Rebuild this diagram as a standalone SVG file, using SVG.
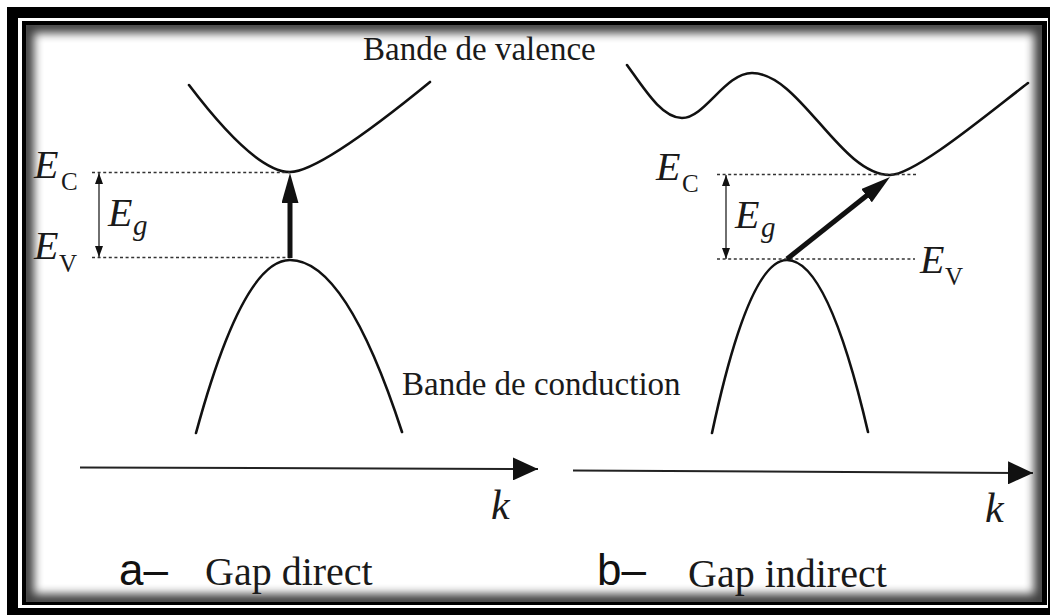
<svg xmlns="http://www.w3.org/2000/svg" width="1050" height="615" viewBox="0 0 1050 615">
<style>
.curve{fill:none;stroke:#111;stroke-width:2.6;stroke-linecap:round}
.dot{fill:none;stroke:#333;stroke-width:1.6;stroke-dasharray:3 2.6}
.axis{fill:none;stroke:#222;stroke-width:2}
.thick{fill:none;stroke:#111;stroke-width:5}
.thin{fill:none;stroke:#222;stroke-width:1.3}
.serif{font-family:"Liberation Serif","Times New Roman",serif;fill:#1a1a1a}
.it{font-style:italic}
.sans{font-family:"Liberation Sans",Arial,sans-serif;fill:#111}
</style>
<defs>
<marker id="axisHead" markerUnits="userSpaceOnUse" viewBox="0 0 25 23" refX="25" refY="11.5" markerWidth="25" markerHeight="23" orient="auto">
<path d="M0,0 L25,11.5 L0,23 Z" fill="#111"/>
</marker>
<marker id="thickHead" markerUnits="userSpaceOnUse" viewBox="0 0 30 17" refX="8" refY="8.5" markerWidth="30" markerHeight="17" orient="auto">
<path d="M0,0 L30,8.5 L0,17 Z" fill="#111"/>
</marker>
<marker id="smallHead" markerUnits="userSpaceOnUse" viewBox="0 0 11 8" refX="11" refY="4" markerWidth="11" markerHeight="8" orient="auto-start-reverse">
<path d="M0,0 L11,4 L0,8 Z" fill="#111"/>
</marker>
<clipPath id="innerClip"><rect x="26" y="25" width="1016" height="577"/></clipPath>
<filter id="blur" x="-5%" y="-5%" width="110%" height="110%"><feGaussianBlur stdDeviation="5"/></filter>
</defs>

<g id="frame">
<rect x="0" y="0" width="1050" height="615" fill="#fff"/>
<rect x="7" y="7" width="1043" height="608" fill="#000"/>
<rect x="18" y="18" width="1030" height="590" fill="#fff"/>
<rect x="22" y="21" width="1025" height="584" fill="#000"/>
<rect x="26" y="25" width="1016" height="577" fill="#fff"/>
<rect x="26" y="25" width="1016" height="577" fill="none" stroke="#000" stroke-width="16" opacity="0.75" filter="url(#blur)" clip-path="url(#innerClip)"/>
</g>

<g id="panel-a">
<g id="band-a-upper"><path class="curve" d="M189,85 Q255,172 290,172 Q320,172 430,82"/></g>
<g id="band-a-lower"><path class="curve" d="M196,433 Q243,260 290,260 Q346,260 402,432"/></g>
<g id="levels-a">
<line class="dot" x1="92" y1="172.5" x2="290" y2="172.5"/>
<line class="dot" x1="92" y1="257.5" x2="290" y2="257.5"/>
</g>
<g id="label-Ec-a"><text class="serif it" x="34" y="178" font-size="40">E</text><text class="serif" x="61" y="190" font-size="25">C</text></g>
<g id="label-Ev-a"><text class="serif it" x="34" y="259" font-size="40">E</text><text class="serif" x="59" y="272" font-size="25">V</text></g>
<g id="label-Eg-a"><text class="serif it" x="108" y="226" font-size="40">E</text><text class="serif it" x="133" y="235" font-size="29">g</text></g>
<g id="label-k-a"><text class="serif it" x="491" y="519" font-size="42">k</text></g>
<g id="caption-a"><text class="sans" x="119" y="585" font-size="44">a–</text><text class="serif" x="205" y="585" font-size="40">Gap direct</text></g>
</g>

<g id="panel-b">
<g id="band-b-upper"><path class="curve" d="M627,65 C645,90 662,118 682,118 C705,118 725,73 752,73 C800,73 840,175 890,175 C915,175 990,112 1028,83"/></g>
<g id="band-b-lower"><path class="curve" d="M712,433 Q749,260 787,260 Q828,260 868,432"/></g>
<g id="levels-b">
<line class="dot" x1="717" y1="174.5" x2="917" y2="174.5"/>
<line class="dot" x1="717" y1="259" x2="915" y2="259"/>
</g>
<g id="label-Ec-b"><text class="serif it" x="656" y="180" font-size="40">E</text><text class="serif" x="682" y="192" font-size="25">C</text></g>
<g id="label-Ev-b"><text class="serif it" x="920" y="273" font-size="40">E</text><text class="serif" x="945" y="285" font-size="25">V</text></g>
<g id="label-Eg-b"><text class="serif it" x="735" y="228" font-size="40">E</text><text class="serif it" x="761" y="237" font-size="29">g</text></g>
<g id="label-k-b"><text class="serif it" x="985" y="522" font-size="42">k</text></g>
<g id="caption-b"><text class="sans" x="597" y="585" font-size="44">b–</text><text class="serif" x="688" y="587" font-size="40">Gap indirect</text></g>
</g>

<g id="titles">
<text class="serif" x="363" y="60" font-size="33">Bande de valence</text>
<text class="serif" x="402" y="395" font-size="33">Bande de conduction</text>
</g>

<g id="connectors">
<line class="axis" x1="80" y1="467.5" x2="538" y2="469" marker-end="url(#axisHead)"/>
<line class="axis" x1="573" y1="470.5" x2="1033" y2="473" marker-end="url(#axisHead)"/>
<line class="thick" x1="290" y1="258" x2="290" y2="195" marker-end="url(#thickHead)"/>
<line class="thick" x1="787" y1="259" x2="872.8" y2="190.7" marker-end="url(#thickHead)"/>
<line class="thin" x1="99" y1="173" x2="99" y2="257" marker-start="url(#smallHead)" marker-end="url(#smallHead)"/>
<line class="thin" x1="726" y1="175" x2="726" y2="259" marker-start="url(#smallHead)" marker-end="url(#smallHead)"/>
</g>
</svg>
